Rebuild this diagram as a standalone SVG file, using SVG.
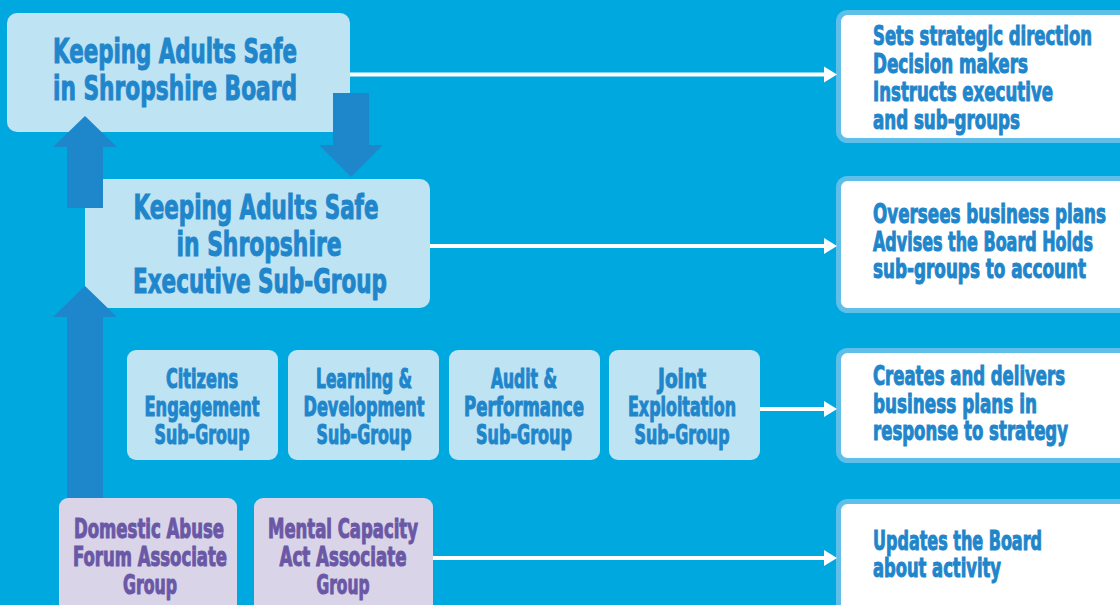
<svg xmlns="http://www.w3.org/2000/svg" width="1120" height="605" viewBox="0 0 1120 605">
  <style>
    .box { fill: #BEE3F3; }
    .assoc { fill: #D9D4E7; }
    .note { fill: #FFFFFF; stroke: #5FBFE8; stroke-width: 5; }
    .t { font-family: "Liberation Sans Narrow", "DejaVu Sans Condensed", "DejaVu Sans", sans-serif; font-weight: bold; font-stretch: condensed; }
    .blue { fill: #1F86CB; stroke: #1F86CB; stroke-width: 1; }
    .purple { fill: #6A58A6; stroke: #6A58A6; stroke-width: 1; }
    .big { font-size: 34px; }
    .mid { font-size: 26px; }
    .c { text-anchor: middle; }
    .link { stroke: #FFFFFF; stroke-width: 4; fill: none; }
    .block { fill: #1E86CB; }
  </style>
  <defs>
    <marker id="head" markerUnits="userSpaceOnUse" markerWidth="14" markerHeight="18" refX="2" refY="9" orient="auto">
      <polygon points="0,1 13,9 0,17" fill="#FFFFFF"/>
    </marker>
  </defs>

  <!-- background -->
  <rect x="0" y="0" width="1120" height="605" fill="#00A8E0"/>

  <!-- board -->
  <g id="board">
    <rect class="box" x="7" y="13" width="343" height="119" rx="10"/>
    <text class="t blue big" x="53" y="63" textLength="244" lengthAdjust="spacingAndGlyphs">Keeping Adults Safe</text>
    <text class="t blue big" x="53" y="100" textLength="244" lengthAdjust="spacingAndGlyphs">in Shropshire Board</text>
  </g>

  <!-- executive sub-group -->
  <g id="executive">
    <rect class="box" x="85" y="179" width="345" height="129" rx="10"/>
    <text class="t blue big c" x="256" y="219" textLength="245" lengthAdjust="spacingAndGlyphs">Keeping Adults Safe</text>
    <text class="t blue big c" x="259" y="256" textLength="165" lengthAdjust="spacingAndGlyphs">in Shropshire</text>
    <text class="t blue big c" x="260" y="293" textLength="254" lengthAdjust="spacingAndGlyphs">Executive Sub-Group</text>
  </g>

  <!-- sub-groups -->
  <g id="citizens">
    <rect class="box" x="127" y="350" width="151" height="110" rx="9"/>
    <text class="t blue mid c" x="202" y="388" textLength="72" lengthAdjust="spacingAndGlyphs">Citizens</text>
    <text class="t blue mid c" x="202" y="416" textLength="115" lengthAdjust="spacingAndGlyphs">Engagement</text>
    <text class="t blue mid c" x="202" y="444" textLength="95" lengthAdjust="spacingAndGlyphs">Sub-Group</text>
  </g>
  <g id="learning">
    <rect class="box" x="288" y="350" width="151" height="110" rx="9"/>
    <text class="t blue mid c" x="364" y="388" textLength="96" lengthAdjust="spacingAndGlyphs">Learning &amp;</text>
    <text class="t blue mid c" x="364" y="416" textLength="121" lengthAdjust="spacingAndGlyphs">Development</text>
    <text class="t blue mid c" x="364" y="444" textLength="95" lengthAdjust="spacingAndGlyphs">Sub-Group</text>
  </g>
  <g id="audit">
    <rect class="box" x="449" y="350" width="151" height="110" rx="9"/>
    <text class="t blue mid c" x="524" y="388" textLength="66" lengthAdjust="spacingAndGlyphs">Audit &amp;</text>
    <text class="t blue mid c" x="524" y="416" textLength="120" lengthAdjust="spacingAndGlyphs">Performance</text>
    <text class="t blue mid c" x="524" y="444" textLength="96" lengthAdjust="spacingAndGlyphs">Sub-Group</text>
  </g>
  <g id="exploitation">
    <rect class="box" x="609" y="350" width="151" height="110" rx="9"/>
    <text class="t blue mid c" x="682" y="388" textLength="48" lengthAdjust="spacingAndGlyphs">Joint</text>
    <text class="t blue mid c" x="682" y="416" textLength="108" lengthAdjust="spacingAndGlyphs">Exploitation</text>
    <text class="t blue mid c" x="682" y="444" textLength="95" lengthAdjust="spacingAndGlyphs">Sub-Group</text>
  </g>

  <!-- associate groups -->
  <g id="domestic-abuse">
    <rect class="assoc" x="59" y="498" width="178" height="130" rx="9"/>
    <text class="t purple mid c" x="149" y="538" textLength="150" lengthAdjust="spacingAndGlyphs">Domestic Abuse</text>
    <text class="t purple mid c" x="150" y="566" textLength="154" lengthAdjust="spacingAndGlyphs">Forum Associate</text>
    <text class="t purple mid c" x="150" y="594" textLength="54" lengthAdjust="spacingAndGlyphs">Group</text>
  </g>
  <g id="mental-capacity">
    <rect class="assoc" x="254" y="498" width="179" height="130" rx="9"/>
    <text class="t purple mid c" x="343" y="538" textLength="150" lengthAdjust="spacingAndGlyphs">Mental Capacity</text>
    <text class="t purple mid c" x="343" y="566" textLength="127" lengthAdjust="spacingAndGlyphs">Act Associate</text>
    <text class="t purple mid c" x="343" y="594" textLength="53" lengthAdjust="spacingAndGlyphs">Group</text>
  </g>

  <!-- role notes -->
  <g id="role-board">
    <rect class="note" x="838.5" y="12.5" width="300" height="128" rx="9"/>
    <text class="t blue mid" x="873" y="45" textLength="219" lengthAdjust="spacingAndGlyphs">Sets strategic direction</text>
    <text class="t blue mid" x="873" y="73" textLength="155" lengthAdjust="spacingAndGlyphs">Decision makers</text>
    <text class="t blue mid" x="873" y="101" textLength="180" lengthAdjust="spacingAndGlyphs">Instructs executive</text>
    <text class="t blue mid" x="873" y="129" textLength="147" lengthAdjust="spacingAndGlyphs">and sub-groups</text>
  </g>
  <g id="role-executive">
    <rect class="note" x="838.5" y="178.5" width="300" height="132" rx="9"/>
    <text class="t blue mid" x="873" y="223" textLength="233" lengthAdjust="spacingAndGlyphs">Oversees business plans</text>
    <text class="t blue mid" x="873" y="251" textLength="220" lengthAdjust="spacingAndGlyphs">Advises the Board Holds</text>
    <text class="t blue mid" x="873" y="278" textLength="213" lengthAdjust="spacingAndGlyphs">sub-groups to account</text>
  </g>
  <g id="role-subgroups">
    <rect class="note" x="838.5" y="350.5" width="300" height="110" rx="9"/>
    <text class="t blue mid" x="873" y="385" textLength="192" lengthAdjust="spacingAndGlyphs">Creates and delivers</text>
    <text class="t blue mid" x="873" y="413" textLength="164" lengthAdjust="spacingAndGlyphs">business plans in</text>
    <text class="t blue mid" x="873" y="440" textLength="195" lengthAdjust="spacingAndGlyphs">response to strategy</text>
  </g>
  <g id="role-associates">
    <rect class="note" x="838.5" y="501.5" width="300" height="130" rx="9"/>
    <text class="t blue mid" x="873" y="550" textLength="169" lengthAdjust="spacingAndGlyphs">Updates the Board</text>
    <text class="t blue mid" x="873" y="577" textLength="128" lengthAdjust="spacingAndGlyphs">about activity</text>
  </g>

  <!-- connectors -->
  <g id="connectors">
    <line class="link" x1="350" y1="74.5" x2="826" y2="74.5" marker-end="url(#head)"/>
    <line class="link" x1="430" y1="246" x2="826" y2="246" marker-end="url(#head)"/>
    <line class="link" x1="760" y1="409" x2="826" y2="409" marker-end="url(#head)"/>
    <line class="link" x1="433" y1="558" x2="826" y2="558" marker-end="url(#head)"/>
    <polygon class="block" points="333,93 369,93 369,145 383,145 351,177 319,145 333,145"/>
    <polygon class="block" points="67,208 103,208 103,147 117,147 85,116 53,147 67,147"/>
    <polygon class="block" points="67,498 103,498 103,317 117,317 85,286 53,317 67,317"/>
  </g>
</svg>
